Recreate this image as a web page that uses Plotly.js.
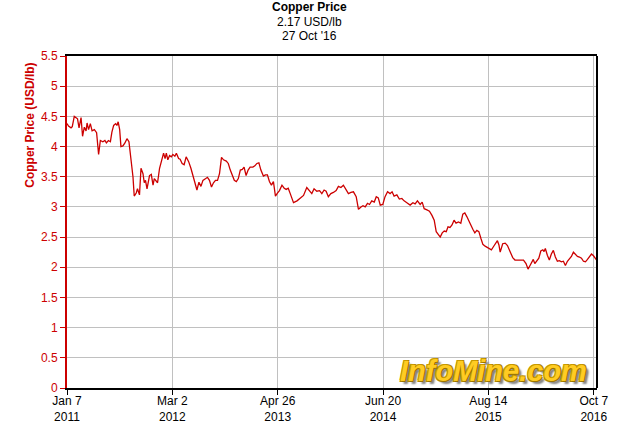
<!DOCTYPE html>
<html>
<head>
<meta charset="utf-8">
<script src="https://cdn.plot.ly/plotly-3.0.1.min.js"></script>
<style>html,body{margin:0;padding:0;background:#fff;}#chart{width:620px;height:443px;}</style>
</head>
<body>
<div id="chart"></div>
<script>
// Days since 2011-01-07
var days = [0,6,16,21,29,37,42,48,56,62,69,76,80,86,93,100,109,118,126,133,143,151,157,165,173,179,186,194,199,204,210,215,223,231,239,247,255,263,268,276,281,289,295,303,308,313,319,324,329,336,343,348,355,361,369,377,385,391,396,402,409,416,422,430,436,445,451,459,467,475,485,494,502,511,518,526,534,542,552,560,568,576,584,592,600,608,616,624,635,643,651,659,667,675,683,691,699,706,714,722,730,741,749,757,765,773,783,791,799,807,815,823,831,839,847,857,866,874,882,890,903,917,930,943,956,967,976,985,996,1007,1016,1025,1033,1042,1052,1062,1073,1082,1092,1102,1113,1122,1132,1142,1153,1162,1172,1180,1189,1198,1206,1215,1225,1233,1241,1249,1259,1268,1278,1288,1296,1304,1315,1325,1335,1344,1355,1368,1379,1388,1397,1408,1416,1424,1435,1445,1455,1464,1472,1480,1488,1496,1504,1512,1519,1527,1535,1543,1551,1561,1570,1578,1586,1594,1602,1610,1618,1626,1634,1642,1650,1658,1667,1676,1684,1692,1700,1708,1716,1722,1727,1737,1747,1756,1767,1777,1786,1800,1809,1820,1830,1838,1846,1854,1859,1865,1873,1881,1889,1897,1902,1907,1915,1923,1931,1939,1947,1955,1963,1971,1979,1987,1995,2003,2011,2019,2027,2035,2043,2051,2059,2067,2075,2083,2091,2099,2107,2113];
// Copper price, USD/lb
var prices = [4.38,4.34,4.31,4.33,4.50,4.48,4.46,4.31,4.48,4.17,4.32,4.26,4.39,4.28,4.38,4.26,4.28,4.23,3.87,4.10,4.08,4.10,4.06,4.10,4.08,4.24,4.35,4.38,4.35,4.41,4.28,4.00,4.01,4.06,4.13,4.08,3.77,3.50,3.18,3.23,3.30,3.20,3.64,3.55,3.40,3.44,3.30,3.44,3.52,3.54,3.36,3.47,3.42,3.40,3.64,3.77,3.89,3.80,3.89,3.78,3.85,3.83,3.87,3.84,3.89,3.80,3.79,3.72,3.70,3.83,3.75,3.64,3.52,3.41,3.28,3.41,3.34,3.44,3.47,3.49,3.44,3.33,3.40,3.44,3.44,3.55,3.82,3.78,3.76,3.72,3.61,3.52,3.44,3.42,3.47,3.61,3.62,3.66,3.52,3.61,3.66,3.66,3.68,3.72,3.73,3.61,3.51,3.53,3.53,3.42,3.36,3.42,3.18,3.23,3.27,3.36,3.31,3.29,3.31,3.22,3.07,3.10,3.14,3.19,3.32,3.27,3.22,3.30,3.26,3.27,3.22,3.28,3.26,3.17,3.22,3.24,3.27,3.34,3.32,3.36,3.28,3.22,3.24,3.25,3.17,2.96,3.00,3.02,3.00,3.06,3.04,3.10,3.08,3.17,3.15,3.03,3.04,3.17,3.25,3.22,3.25,3.18,3.20,3.13,3.14,3.10,3.07,3.03,3.07,3.05,3.10,3.04,3.08,2.97,2.95,2.93,2.86,2.78,2.59,2.55,2.50,2.57,2.60,2.59,2.67,2.66,2.70,2.78,2.73,2.75,2.73,2.88,2.90,2.84,2.78,2.70,2.63,2.57,2.61,2.59,2.48,2.38,2.35,2.33,2.31,2.29,2.34,2.39,2.44,2.37,2.25,2.39,2.40,2.36,2.25,2.16,2.12,2.12,2.11,2.12,2.06,1.97,2.03,2.09,2.13,2.06,2.10,2.15,2.27,2.29,2.26,2.31,2.20,2.12,2.22,2.28,2.17,2.10,2.11,2.09,2.10,2.03,2.10,2.14,2.18,2.25,2.21,2.18,2.17,2.15,2.10,2.09,2.13,2.17,2.22,2.19,2.13,2.11];

var tickDates = ['2011-01-07','2012-03-02','2013-04-26','2014-06-20','2015-08-14','2016-10-07'];
var tickLabels = ['Jan 7<br>2011','Mar 2<br>2012','Apr 26<br>2013','Jun 20<br>2014','Aug 14<br>2015','Oct 7<br>2016'];
var titleLines = ['Copper Price','2.17 USD/lb',"27 Oct '16"];
var yTitle = 'Copper Price (USD/lb)';
var watermark = 'InfoMine.com';

var start = Date.UTC(2011, 0, 7);
var xDates = days.map(function (d) {
  return new Date(start + d * 86400000).toISOString().slice(0, 10);
});

var RED = '#cc0000';
var FONT = 'Liberation Sans, Arial, sans-serif';

var trace = {
  x: xDates, y: prices, type: 'scatter', mode: 'lines',
  line: {color: RED, width: 1.3}, hoverinfo: 'skip'
};

var layout = {
  width: 620, height: 443,
  margin: {l: 67, r: 23, t: 56, b: 55, pad: 0},
  paper_bgcolor: '#ffffff', plot_bgcolor: '#ffffff',
  showlegend: false,
  font: {family: FONT, size: 12, color: '#000'},
  xaxis: {
    type: 'date', range: ['2011-01-07', '2016-10-20'],
    tickmode: 'array', tickvals: tickDates, ticktext: tickLabels,
    showgrid: true, gridcolor: '#c0c0c0', gridwidth: 1,
    showline: true, linecolor: '#000', linewidth: 2, mirror: true,
    ticks: 'outside', ticklen: 5, tickwidth: 1, tickcolor: '#000',
    ticklabelstandoff: -4,
    tickfont: {family: FONT, size: 12, color: '#000'},
    zeroline: false, fixedrange: true
  },
  yaxis: {
    range: [0, 5.5], dtick: 0.5, tick0: 0,
    showgrid: true, gridcolor: '#c0c0c0', gridwidth: 1,
    showline: true, linecolor: RED, linewidth: 2,
    ticks: 'outside', ticklen: 5, tickwidth: 1, tickcolor: RED,
    tickfont: {family: FONT, size: 12, color: RED},
    zeroline: false, fixedrange: true
  },
  shapes: [{
    type: 'line', xref: 'paper', yref: 'paper', x0: 1, x1: 1, y0: 0, y1: 1,
    line: {color: '#000', width: 2}
  }],
  annotations: [
    {text: '<b>' + titleLines[0] + '</b>', xref: 'paper', yref: 'paper', x: 0.458, y: 1.1476,
     xanchor: 'center', yanchor: 'middle', showarrow: false, font: {family: FONT, size: 12, color: '#000'}},
    {text: titleLines[1], xref: 'paper', yref: 'paper', x: 0.458, y: 1.1039,
     xanchor: 'center', yanchor: 'middle', showarrow: false, font: {family: FONT, size: 12, color: '#000'}},
    {text: titleLines[2], xref: 'paper', yref: 'paper', x: 0.458, y: 1.0617,
     xanchor: 'center', yanchor: 'middle', showarrow: false, font: {family: FONT, size: 12, color: '#000'}},
    {text: '<b>' + yTitle + '</b>', xref: 'paper', yref: 'paper', x: -0.0697, y: 0.79,
     xanchor: 'center', yanchor: 'middle', textangle: -90, showarrow: false,
     font: {family: FONT, size: 12, color: RED}},
    {text: '<b><i>' + watermark + '</i></b>', xref: 'paper', yref: 'paper', x: 0.804, y: 0.05,
     xanchor: 'center', yanchor: 'middle', showarrow: false,
     font: {family: FONT, size: 29, color: '#ffcc22',
            shadow: '1px 1px 0 #9a7400, -1px -1px 0 #c89a00, 1px -1px 0 #b08800, -1px 1px 0 #b08800, 3px 3px 2px #808080'}}
  ]
};

Plotly.newPlot('chart', [trace], layout, {staticPlot: true, displayModeBar: false});
</script>
</body>
</html>
